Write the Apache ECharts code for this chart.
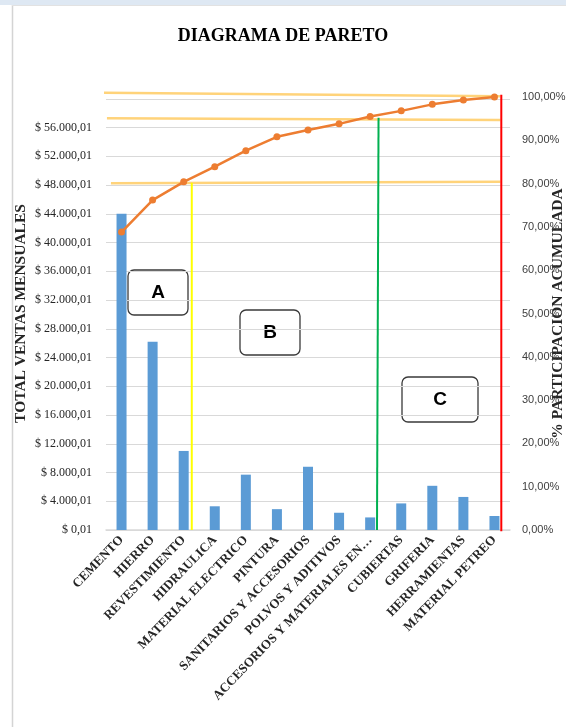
<!DOCTYPE html>
<html>
<head>
<meta charset="utf-8">
<script src="https://cdn.jsdelivr.net/npm/echarts@6/dist/echarts.min.js"></script>
<style>
html,body{margin:0;padding:0;background:#fff;}
#c{width:566px;height:727px;}
</style>
</head>
<body>
<div id="c"></div>
<script>
const categories = ["CEMENTO","HIERRO","REVESTIMIENTO","HIDRAULICA","MATERIAL ELECTRICO","PINTURA","SANITARIOS Y ACCESORIOS","POLVOS Y ADITIVOS","ACCESORIOS Y MATERIALES EN…","CUBIERTAS","GRIFERIA","HERRAMIENTAS","MATERIAL PETREO"];
const ventas = [44000, 26200, 11000, 3300, 7700, 2900, 8800, 2400, 1750, 3700, 6150, 4600, 1950];
const acumulado = [68.8, 76.2, 80.4, 83.9, 87.6, 90.8, 92.4, 93.8, 95.5, 96.8, 98.3, 99.3, 100];
const leftTickStep = 4000;
const rightTickStep = 10;
// guide lines drawn over the chart, in (category index, percent) units
const guideTop = [[-0.63, 101.0], [12.19, 100.2]];
const guide95 = [[-0.47, 95.1], [12.19, 94.7]];
const guide80 = [[-0.34, 80.1], [12.19, 80.4]];
const cutA = [[2.26, 80.2], [2.26, 0]];
const cutB = [[8.27, 95.2], [8.22, 0]];
const cutC = [[12.22, 100.5], [12.22, -0.3]];
const zoneLabels = ["A", "B", "C"];

function fmtMoney(v){
  const n = (v + 0.01).toFixed(2);
  let [ip, dp] = n.split('.');
  ip = ip.replace(/\B(?=(\d{3})+(?!\d))/g, '.');
  return '$ ' + ip + ',' + dp;
}

const chart = echarts.init(document.getElementById('c'), null, {renderer:'canvas'});
const guideSeries = (data, color, w) => ({
  type:'line', xAxisIndex:1, yAxisIndex:1, data:data, symbol:'none', clip:false, silent:true,
  lineStyle:{color:color, width:w}, z:3, animation:false
});
function box(x,y,w,h,t){
  return {type:'group', z:50, children:[
    {type:'rect', shape:{x:x,y:y,width:w,height:h,r:6}, style:{fill:'#fff', stroke:'#3a3a3a', lineWidth:1.3}},
    {type:'text', x:x+w/2, y:y+h/2, style:{text:t, fill:'#000', font:'bold 19px "Liberation Sans", Arial', align:'center', verticalAlign:'middle'}}
  ]};
}
chart.setOption({
  animation:false,
  backgroundColor:'#fff',
  title:{text:'DIAGRAMA DE PARETO', left:'center', top:27, textStyle:{fontFamily:'"Liberation Serif", serif', fontWeight:'bold', fontSize:18, color:'#000'}, padding:0},
  graphic:[
    {type:'rect', shape:{x:0,y:0,width:566,height:5}, style:{fill:'#DEE8F3'}, z:-10},
    {type:'line', shape:{x1:12.5,y1:5,x2:12.5,y2:727}, style:{stroke:'#D4D4D4', lineWidth:1.5}, z:-10},
    {type:'line', shape:{x1:12,y1:5.5,x2:566,y2:5.5}, style:{stroke:'#E2E2E2', lineWidth:1}, z:-10},
    box(128, 270, 60, 45, zoneLabels[0]),
    box(240, 310, 60, 45, zoneLabels[1]),
    box(402, 377, 76, 45, zoneLabels[2])
  ],
  grid:{left:106, right:56, top:97, bottom:197, containLabel:false, outerBoundsMode:'none'},
  xAxis:[
    {type:'category', data:categories, axisLine:{lineStyle:{color:'#D9D9D9', width:1.5}}, axisTick:{show:false},
     axisLabel:{interval:0, rotate:46, margin:8, fontFamily:'"Liberation Serif", serif', fontWeight:'bold', fontSize:13, color:'#262626'}},
    {type:'value', min:-0.5, max:12.5, show:false}
  ],
  yAxis:[
    {type:'value', min:0, max:60250, interval:leftTickStep,
     name:'TOTAL VENTAS MENSUALES', nameLocation:'middle', nameGap:77, nameRotate:90, nameMoveOverlap:false,
     nameTextStyle:{fontFamily:'"Liberation Serif", serif', fontWeight:'bold', fontSize:15.5, color:'#262626'},
     axisLine:{show:false}, axisTick:{show:false},
     splitLine:{showMaxLine:false, lineStyle:{color:'#D9D9D9', width:1}},
     axisLabel:{margin:14, fontFamily:'"Liberation Serif", serif', fontSize:12, color:'#262626',
       formatter:v => (v % leftTickStep === 0 && v <= 56000) ? fmtMoney(v) : ''}},
    {type:'value', min:0, max:100, interval:rightTickStep, position:'right',
     name:'% PARTICIPACION ACUMULADA', nameLocation:'middle', nameGap:40, nameRotate:90, nameMoveOverlap:false,
     nameTextStyle:{fontFamily:'"Liberation Serif", serif', fontWeight:'bold', fontSize:15.5, color:'#262626'},
     axisLine:{show:false}, axisTick:{show:false}, splitLine:{show:false},
     axisLabel:{margin:12, fontFamily:'"Liberation Sans", Arial', fontSize:11, color:'#404040',
       formatter:v => v.toFixed(2).replace('.', ',') + '%'}}
  ],
  series:[
    {type:'bar', data:ventas, barWidth:10, itemStyle:{color:'#5B9BD5'}, z:2},
    guideSeries(guideTop, '#FFD37A', 2.5),
    guideSeries(guide95, '#FFD37A', 2.5),
    guideSeries(guide80, '#FFD37A', 2.5),
    guideSeries(cutA, '#FFFF00', 2),
    guideSeries(cutB, '#00B050', 2),
    guideSeries(cutC, '#FF0000', 2),
    {type:'line', yAxisIndex:1, data:acumulado, symbol:'circle', symbolSize:7,
     lineStyle:{color:'#ED7D31', width:2.5}, itemStyle:{color:'#ED7D31'}, z:5}
  ]
});
</script>
</body>
</html>
